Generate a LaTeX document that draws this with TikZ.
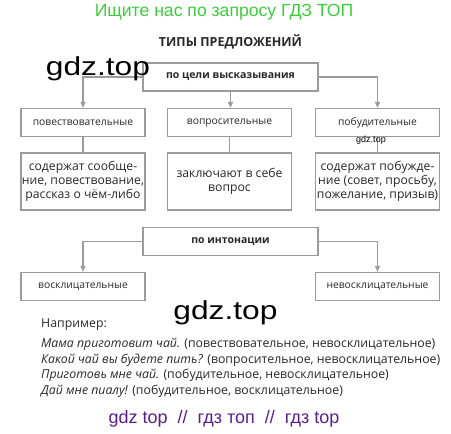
\documentclass[tikz,border=0pt]{standalone}
\usepackage{fontspec}
\setmainfont{Open Sans}
\newfontfamily\wmfont{Liberation Sans}
\usetikzlibrary{arrows.meta}
\definecolor{boxgray}{RGB}{155,155,155}
\definecolor{wmgreen}{RGB}{60,205,60}
\definecolor{wmpurple}{RGB}{90,30,140}
\definecolor{txt}{RGB}{40,40,40}
\tikzset{
  box/.style={draw=boxgray, line width=1.2pt, minimum height=28pt, inner sep=0pt, text=txt},
  catbox/.style={box, minimum width=175pt, font=\fontsize{10.5}{12}\selectfont\bfseries},
  typebox/.style={box, minimum width=124pt, font=\fontsize{10.3}{12}\selectfont},
  descbox/.style={box, minimum width=124pt, minimum height=57pt, align=center, font=\fontsize{12.2}{14}\selectfont},
  conn/.style={draw=boxgray, line width=1.2pt},
  arr/.style={conn, -{Triangle[length=6pt,width=5pt]}},
  ex/.style={anchor=base west, inner sep=0pt, text=txt, font=\fontsize{12.3}{14}\selectfont},
}
\begin{document}
\begin{tikzpicture}[x=1pt,y=-1pt]
\useasboundingbox (0,0) rectangle (451,434);
\node[text=wmgreen, font=\wmfont\fontsize{17.6}{20}\selectfont] (title) at (224,12) {Ищите нас по запросу ГДЗ ТОП};
\node[text=txt, font=\fontsize{12.5}{14}\selectfont\bfseries] (head) at (230.5,42) {ТИПЫ ПРЕДЛОЖЕНИЙ};

\node[catbox] (goal) at (230.5,77) {по цели высказывания};
\node[typebox] (t1) at (83,122.5) {повествовательные};
\node[typebox] (t2) at (229.5,122.5) {вопросительные};
\node[typebox] (t3) at (377.5,122.5) {побудительные};
\node[descbox] (d1) at (83,181.5) {содержат сообще-\\ние, повествование,\\рассказ о чём-либо};
\node[descbox] (d2) at (229.5,181.5) {заключают в себе\\вопрос};
\node[descbox] (d3) at (377.5,181.5) {содержат побужде-\\ние (совет, просьбу,\\пожелание, призыв)};

\draw[arr] (goal.west) -| (t1.north);
\draw[arr] (goal.south) -- (goal.south |- t2.north);
\draw[arr] (goal.east) -| (t3.north);
\draw[conn] (t1) -- (d1);
\draw[conn] (t2) -- (d2);
\draw[conn] (t3) -- (d3);

\node[catbox] (inton) at (230.5,241.5) {по интонации};
\node[typebox] (e1) at (83,286.5) {восклицательные};
\node[typebox] (e2) at (377.5,286.5) {невосклицательные};
\draw[arr] (inton.west) -| (e1.north);
\draw[arr] (inton.east) -| (e2.north);

\node[font=\wmfont\fontsize{9}{10}\selectfont, inner sep=0.5pt] (wm1) at (371,140) {gdz.top};
\node[font=\wmfont\fontsize{26}{28}\selectfont, xscale=1.22, inner sep=0pt] (wm2) at (98,69) {gdz.top};
\node[font=\wmfont\fontsize{26}{28}\selectfont, xscale=1.22, inner sep=0pt] (wm3) at (225.5,313) {gdz.top};

\node[ex] (ex0) at (41,327) {Например:};
\node[ex] (ex1) at (41,347) {\textit{Мама приготовит чай.} (повествовательное, невосклицательное)};
\node[ex] (ex2) at (41,363) {\textit{Какой чай вы будете пить?} (вопросительное, невосклицательное)};
\node[ex] (ex3) at (41,378) {\textit{Приготовь мне чай.} (побудительное, невосклицательное)};
\node[ex] (ex4) at (41,394) {\textit{Дай мне пиалу!} (побудительное, восклицательное)};

\node[text=wmpurple, font=\wmfont\fontsize{18}{20}\selectfont] (foot) at (224,419) {gdz top \ // \ гдз топ \ // \ гдз top};
\end{tikzpicture}
\end{document}
